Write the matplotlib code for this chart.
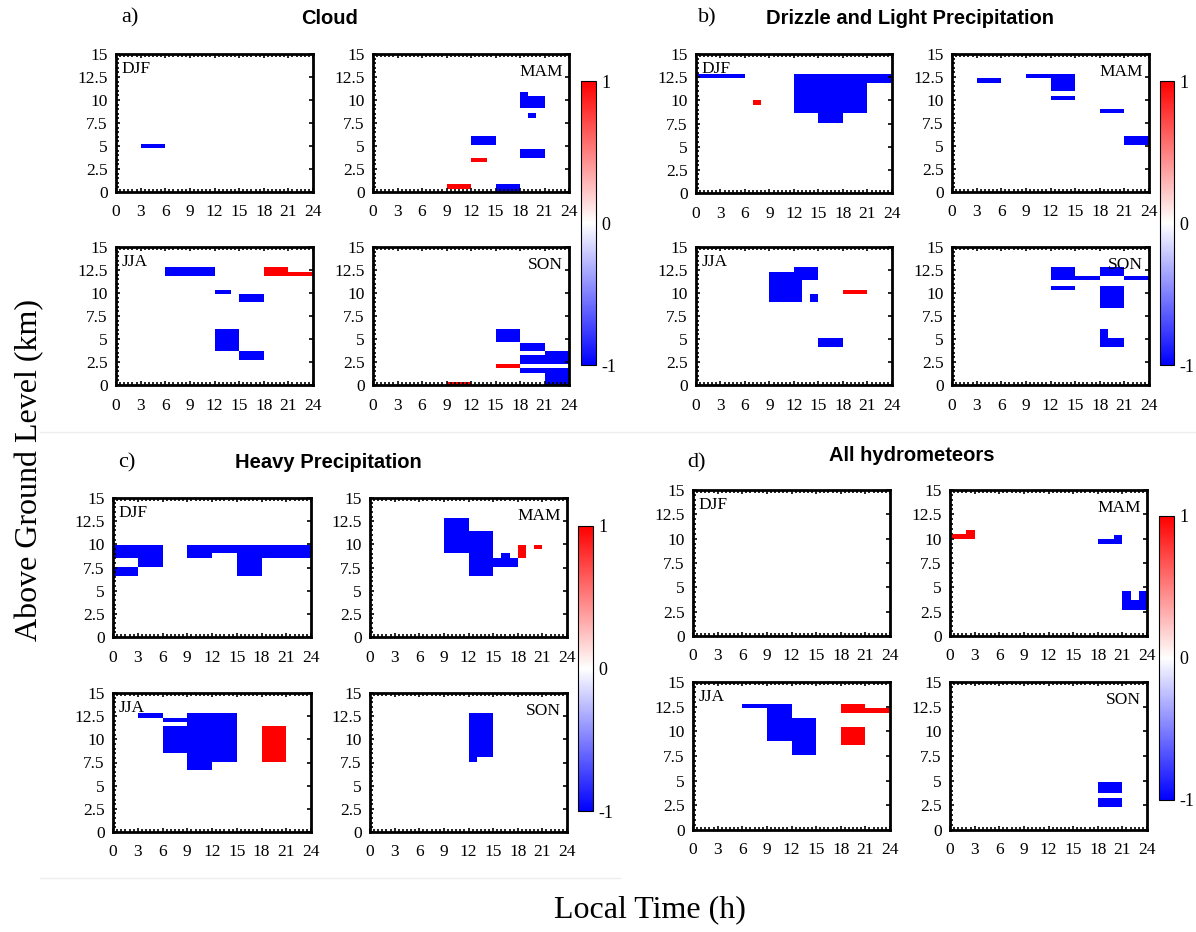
import matplotlib
matplotlib.use("Agg")
import matplotlib.pyplot as plt
from matplotlib.ticker import MultipleLocator
from matplotlib.colors import Normalize
import matplotlib.cm as cm

W, H = 1196, 932
SEASONS = ["DJF", "MAM", "JJA", "SON"]
TIME_TICKS = [0, 3, 6, 9, 12, 15, 18, 21, 24]
HEIGHT_TICKS = [0, 2.5, 5, 7.5, 10, 12.5, 15]
HEIGHT_LABELS = ["0", "2.5", "5", "7.5", "10", "12.5", "15"]
CBAR_TICKS = [-1, 0, 1]
CBAR_LABELS = ["-1", "0", "1"]

# Blocks: (time start h, time end h, height bottom km, height top km, value)
cloud_DJF = [(3, 6, 4.75, 5.25, -1)]
cloud_MAM = [(9, 12, 0.35, 0.85, 1), (15, 18, 0.0, 0.85, -1), (12, 14, 3.25, 3.7, 1),
             (12, 15, 5.15, 6.1, -1), (18, 21, 3.7, 4.7, -1), (19, 20, 8.0, 8.55, -1),
             (18, 19, 9.1, 10.9, -1), (19, 21, 9.1, 10.4, -1)]
cloud_JJA = [(6, 12, 11.85, 12.8, -1), (18, 21, 11.85, 12.8, 1), (21, 24, 11.85, 12.3, 1),
             (12, 14, 9.9, 10.35, -1), (15, 18, 9.0, 9.9, -1), (12, 15, 3.7, 6.1, -1),
             (15, 18, 2.75, 3.7, -1)]
cloud_SON = [(9, 12, 0.0, 0.35, 1), (15, 18, 1.8, 2.25, 1), (15, 18, 4.7, 6.1, -1),
             (18, 21, 3.7, 4.6, -1), (18, 24, 2.25, 3.25, -1), (21, 24, 3.25, 3.7, -1),
             (18, 21, 1.35, 1.8, -1), (21, 24, 0.0, 1.8, -1)]

drizzle_DJF = [(0, 6, 12.4, 12.85, -1), (7, 8, 9.55, 10.0, 1), (12, 21, 8.6, 12.85, -1),
               (15, 18, 7.6, 8.6, -1), (21, 24, 11.9, 12.85, -1)]
drizzle_MAM = [(3, 6, 11.9, 12.4, -1), (9, 12, 12.4, 12.85, -1), (12, 15, 10.95, 12.85, -1),
               (12, 15, 9.95, 10.45, -1), (18, 21, 8.55, 9.0, -1), (21, 24, 5.15, 6.1, -1)]
drizzle_JJA = [(9, 12, 9.0, 12.3, -1), (12, 15, 11.4, 12.8, -1), (12, 13, 9.0, 11.4, -1),
               (14, 15, 9.0, 9.9, -1), (18, 21, 9.9, 10.35, 1), (15, 18, 4.15, 5.1, -1)]
drizzle_SON = [(12, 15, 11.4, 12.8, -1), (12, 15, 10.35, 10.8, -1), (15, 18, 11.4, 11.85, -1),
               (18, 21, 11.85, 12.8, -1), (21, 24, 11.4, 11.85, -1), (18, 21, 8.4, 10.8, -1),
               (18, 19, 5.1, 6.1, -1), (18, 21, 4.15, 5.1, -1)]

heavy_DJF = [(0, 6, 8.55, 9.95, -1), (3, 6, 7.55, 8.55, -1), (0, 3, 6.6, 7.55, -1),
             (9, 12, 8.55, 9.95, -1), (12, 24, 9.05, 9.95, -1), (15, 18, 6.6, 9.05, -1),
             (18, 24, 8.55, 9.05, -1)]
heavy_MAM = [(9, 12, 9.05, 12.85, -1), (12, 15, 6.6, 11.4, -1), (15, 18, 7.55, 8.55, -1),
             (16, 17, 8.55, 9.05, -1), (18, 19, 8.55, 9.95, 1), (20, 21, 9.45, 9.95, 1)]
heavy_JJA = [(3, 6, 12.35, 12.8, -1), (6, 9, 11.9, 12.35, -1), (6, 9, 8.55, 11.4, -1),
             (9, 15, 7.6, 12.85, -1), (9, 12, 6.65, 7.6, -1), (18, 21, 7.6, 11.4, 1)]
heavy_SON = [(12, 15, 8.1, 12.85, -1), (12, 13, 7.6, 8.1, -1)]

allh_DJF = []
allh_MAM = [(0, 2, 9.95, 10.45, 1), (2, 3, 9.95, 10.85, 1), (18, 20, 9.5, 9.95, -1),
            (20, 21, 9.5, 10.4, -1), (21, 24, 2.7, 3.7, -1), (21, 22, 3.7, 4.6, -1),
            (23, 24, 3.7, 4.6, -1)]
allh_JJA = [(6, 9, 12.35, 12.8, -1), (9, 12, 9.0, 12.8, -1), (12, 15, 7.6, 11.4, -1),
            (18, 21, 11.9, 12.8, 1), (21, 24, 11.9, 12.35, 1), (18, 21, 8.6, 10.4, 1)]
allh_SON = [(18, 21, 2.35, 3.25, -1), (18, 21, 3.7, 4.85, -1)]

groups = [
    {"tag": "a)", "title": "Cloud", "data": [cloud_DJF, cloud_MAM, cloud_JJA, cloud_SON],
     "axes": [(116, 54, 313, 192), (373, 54, 569, 192), (116, 247, 313, 385), (373, 247, 569, 385)],
     "cbar": (581, 81, 596, 365), "tagpos": (130, 18), "titlepos": (330, 18)},
    {"tag": "b)", "title": "Drizzle and Light Precipitation",
     "data": [drizzle_DJF, drizzle_MAM, drizzle_JJA, drizzle_SON],
     "axes": [(696, 54, 892, 193), (952, 54, 1149, 192), (696, 247, 892, 385), (952, 247, 1149, 385)],
     "cbar": (1160, 81, 1174, 365), "tagpos": (707, 18), "titlepos": (910, 18)},
    {"tag": "c)", "title": "Heavy Precipitation", "data": [heavy_DJF, heavy_MAM, heavy_JJA, heavy_SON],
     "axes": [(113, 498, 311, 637), (370, 498, 567, 637), (113, 693, 311, 832), (370, 693, 567, 832)],
     "cbar": (578, 526, 593, 811), "tagpos": (127, 463), "titlepos": (328, 463)},
    {"tag": "d)", "title": "All hydrometeors", "data": [allh_DJF, allh_MAM, allh_JJA, allh_SON],
     "axes": [(693, 490, 890, 636), (950, 490, 1147, 636), (693, 682, 890, 830), (950, 682, 1147, 830)],
     "cbar": (1159, 516, 1174, 800), "tagpos": (697, 463), "titlepos": (912, 455)},
]

SERIF = "Liberation Serif"
SANS = "Liberation Sans"
cmap = plt.get_cmap("bwr")
norm = Normalize(vmin=-1, vmax=1)

fig = plt.figure(figsize=(W / 100, H / 100), dpi=100)
fig.patch.set_facecolor("white")


def rect(box):
    l, t, r, b = box
    return [l / W, 1 - b / H, (r - l) / W, (b - t) / H]


for g in groups:
    for i, (season, blocks, box) in enumerate(zip(SEASONS, g["data"], g["axes"])):
        ax = fig.add_axes(rect(box))
        for (t0, t1, h0, h1, v) in blocks:
            ax.bar(t0, h1 - h0, width=t1 - t0, bottom=h0, align="edge",
                   color=cmap(norm(v)), edgecolor="none", linewidth=0)
        ax.set_xlim(0, 24)
        ax.set_ylim(0, 15)
        ax.set_xticks(TIME_TICKS)
        ax.set_xticklabels([str(t) for t in TIME_TICKS], fontfamily=SERIF, fontsize=12.5)
        ax.set_yticks(HEIGHT_TICKS)
        ax.set_yticklabels(HEIGHT_LABELS, fontfamily=SERIF, fontsize=12.5)
        ax.xaxis.set_minor_locator(MultipleLocator(0.5))
        ax.yaxis.set_minor_locator(MultipleLocator(0.5))
        ax.tick_params(which="major", direction="in", length=3, width=1.2,
                       top=True, right=True, pad=6)
        ax.tick_params(which="minor", direction="in", length=2, width=1.2,
                       top=True, right=False, left=True, bottom=True)
        ax.tick_params(axis="x", which="major", pad=9)
        for s in ax.spines.values():
            s.set_linewidth(2)
        if season in ("DJF", "JJA"):
            ax.text(0.03, 0.95, season, transform=ax.transAxes, ha="left", va="top",
                    fontfamily=SERIF, fontsize=12.5)
        else:
            ax.text(0.97, 0.93, season, transform=ax.transAxes, ha="right", va="top",
                    fontfamily=SERIF, fontsize=12.5)
    cax = fig.add_axes(rect(g["cbar"]))
    cb = fig.colorbar(cm.ScalarMappable(norm=norm, cmap=cmap), cax=cax, ticks=CBAR_TICKS)
    cb.ax.set_yticklabels(CBAR_LABELS, fontfamily=SERIF, fontsize=13)
    cb.ax.tick_params(length=0, pad=4)
    cb.outline.set_linewidth(0.8)
    tx, ty = g["tagpos"]
    fig.text(tx / W, 1 - ty / H, g["tag"], ha="center", va="center", fontfamily=SERIF, fontsize=16)
    px, py = g["titlepos"]
    fig.text(px / W, 1 - py / H, g["title"], ha="center", va="center", fontfamily=SANS,
             fontsize=14.5, fontweight="bold")

# faint separators
fig.add_artist(plt.Line2D([40 / W, 1], [1 - 432 / H, 1 - 432 / H], color="#eeeeee", lw=1))
fig.add_artist(plt.Line2D([40 / W, 620 / W], [1 - 878 / H, 1 - 878 / H], color="#eeeeee", lw=1))

fig.text(30 / W, 1 - 470 / H, "Above Ground Level (km)", rotation=90, ha="center", va="center",
         fontfamily=SERIF, fontsize=23)
fig.text(650 / W, 1 - 910 / H, "Local Time (h)", ha="center", va="center",
         fontfamily=SERIF, fontsize=23)

fig.savefig("out.png", dpi=100, facecolor="white")
